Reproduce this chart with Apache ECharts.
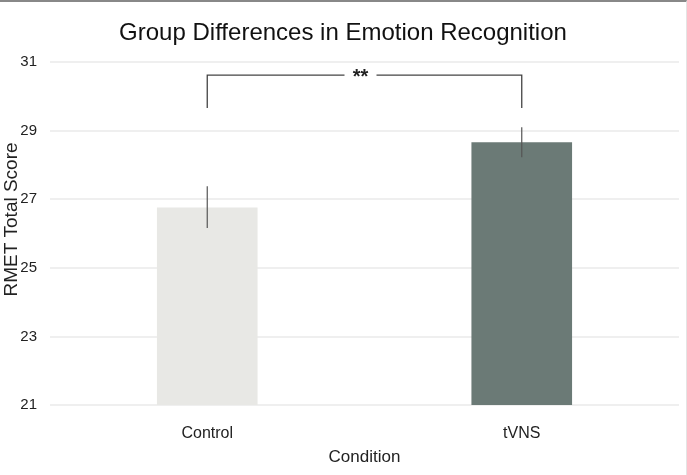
<!DOCTYPE html>
<html>
<head>
<meta charset="utf-8">
<script src="https://cdn.jsdelivr.net/npm/echarts@6/dist/echarts.min.js"></script>
<style>
  html, body { margin: 0; padding: 0; background: #fff; }
  #main { width: 687px; height: 475px; box-sizing: border-box; border-top: 2px solid #888; border-right: 1px solid #e4e4e4; }
</style>
</head>
<body>
<div id="main"></div>
<script>
// data
var categories = ['Control', 'tVNS'];
var means = [26.76, 28.66];
var errLow = [26.16, 28.22];
var errHigh = [27.38, 29.1];
var barColors = ['#e8e8e5', '#6b7a76'];
var yTicks = [21, 23, 25, 27, 29, 31];
// significance bracket: from cat 0 to cat 1, top y, leg bottom y, label
var bracket = [0, 1, 30.62, 29.66, '**'];

var font = '"Liberation Sans", Arial, sans-serif';

var chart = echarts.init(document.getElementById('main'));
var option = {
  animation: false,
  title: {
    text: 'Group Differences in Emotion Recognition',
    left: 'center',
    top: 14,
    textStyle: { fontFamily: font, fontWeight: 'normal', fontSize: 24, color: '#111' }
  },
  grid: { left: 50, right: 7, top: 60, bottom: 70, outerBoundsMode: 'none', containLabel: false },
  xAxis: {
    type: 'category',
    data: categories,
    name: 'Condition',
    nameLocation: 'middle',
    nameGap: 44,
    nameMoveOverlap: false,
    nameTextStyle: { fontFamily: font, fontSize: 17, color: '#222' },
    axisLine: { show: false },
    axisTick: { show: false },
    axisLabel: { fontFamily: font, fontSize: 16, color: '#222', margin: 21 }
  },
  yAxis: {
    type: 'value',
    min: yTicks[0],
    max: yTicks[yTicks.length - 1],
    interval: 2,
    name: 'RMET Total Score',
    nameLocation: 'middle',
    nameGap: 29,
    nameMoveOverlap: false,
    nameTextStyle: { fontFamily: font, fontSize: 19, color: '#222', padding: [0, 0, 0, 28] },
    axisLine: { show: false },
    axisTick: { show: false },
    axisLabel: { fontFamily: font, fontSize: 15, color: '#222', margin: 13 },
    splitLine: { lineStyle: { color: '#efefef', width: 2 } }
  },
  series: [
    {
      type: 'bar',
      barWidth: '32%',
      data: means.map(function (v, i) {
        return { value: v, itemStyle: { color: barColors[i] } };
      })
    },
    {
      type: 'custom',
      z: 5,
      data: categories.map(function (c, i) { return [i, errLow[i], errHigh[i]]; }),
      renderItem: function (params, api) {
        var lo = api.coord([api.value(0), api.value(1)]);
        var hi = api.coord([api.value(0), api.value(2)]);
        return {
          type: 'line',
          shape: { x1: lo[0], y1: lo[1], x2: hi[0], y2: hi[1] },
          style: { stroke: '#555', lineWidth: 1.2 }
        };
      }
    },
    {
      type: 'custom',
      z: 5,
      data: [bracket],
      renderItem: function (params, api) {
        var a = api.coord([api.value(0), api.value(2)]);
        var b = api.coord([api.value(1), api.value(2)]);
        var aBot = api.coord([api.value(0), api.value(3)]);
        var mid = (a[0] + b[0]) / 2 - 4;
        var gap = 16;
        var st = { stroke: '#444', lineWidth: 1.3, fill: null };
        return {
          type: 'group',
          children: [
            { type: 'polyline', shape: { points: [[a[0], aBot[1]], [a[0], a[1]], [mid - gap, a[1]]] }, style: st },
            { type: 'polyline', shape: { points: [[mid + gap, b[1]], [b[0], b[1]], [b[0], aBot[1]]] }, style: st },
            {
              type: 'text',
              x: mid, y: a[1] + 2,
              style: {
                text: bracket[4], fill: '#222', fontSize: 20, fontWeight: 'bold',
                fontFamily: font, align: 'center', verticalAlign: 'middle'
              }
            }
          ]
        };
      }
    }
  ]
};
chart.setOption(option);
</script>
</body>
</html>
